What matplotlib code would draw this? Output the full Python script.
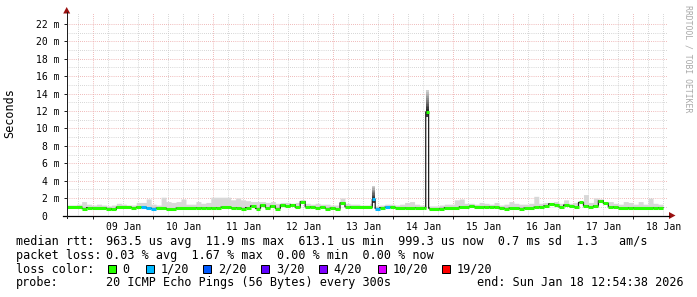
import numpy as np
import matplotlib.pyplot as plt
from matplotlib.collections import LineCollection
from matplotlib.patches import Polygon, Rectangle
from matplotlib.lines import Line2D
from matplotlib.transforms import IdentityTransform

plt.rcParams['font.family'] = ['DejaVu Sans Mono']

W, H = 697, 297

# time in days of January 2026, values in ms
x_lo, x_hi = 8.5567, 18.5567
y_hi = 23.25
t_first, t_last = 8.5567, 18.495

# median rtt, one value per 2 hours
median_ms = [
    0.95, 0.95, 0.95, 0.80, 0.90, 0.85, 0.85, 0.85, 0.80, 0.70,
    0.95, 0.95, 0.95, 0.90, 0.95, 0.95, 0.85, 0.80, 0.85, 0.85,
    0.75, 0.75, 0.85, 0.85, 0.85, 0.85, 0.90, 0.85, 0.90, 0.85,
    0.90, 0.95, 0.95, 0.85, 0.90, 0.80, 0.90, 1.10, 0.80, 1.20,
    0.90, 1.10, 0.80, 1.20, 1.05, 1.25, 0.95, 1.60, 1.00, 0.95,
    0.90, 0.95, 0.80, 0.85, 0.75, 1.45, 1.00, 0.95, 0.95, 0.95,
    0.95, 0.95, 0.80, 0.90, 0.95, 0.95, 0.90, 0.90, 0.85, 0.85,
    0.90, 0.90, 0.85, 0.75, 0.75, 0.80, 0.90, 0.90, 0.90, 1.00,
    1.00, 1.05, 1.00, 1.00, 0.95, 1.00, 0.95, 0.85, 0.80, 0.85,
    0.85, 0.80, 0.85, 0.85, 0.95, 1.00, 1.10, 1.35, 1.25, 1.00,
    1.20, 1.05, 1.00, 1.50, 1.10, 1.00, 1.10, 1.70, 1.40, 1.00,
    0.95, 0.90, 0.90, 0.85, 0.90, 0.90, 0.90, 0.90, 0.85, 0.90,
]
# top of the smoke (slowest ping), one value per 2 hours
smoke_ms = [
    1.2, 1.2, 1.3, 1.6, 1.3, 1.2, 1.3, 1.2, 1.1, 1.2,
    1.4, 1.3, 1.2, 1.2, 1.5, 1.5, 1.9, 1.3, 1.2, 2.1,
    1.6, 1.5, 1.6, 1.9, 1.3, 1.3, 1.6, 1.4, 1.5, 2.1,
    2.1, 2.1, 2.1, 1.8, 2.0, 1.8, 1.7, 1.6, 1.6, 1.6,
    1.5, 1.6, 1.4, 1.5, 1.5, 1.4, 1.5, 1.8, 1.4, 1.3,
    1.4, 1.3, 1.3, 1.2, 1.2, 2.0, 1.4, 1.3, 1.3, 1.2,
    1.2, 1.4, 1.1, 1.2, 1.3, 1.3, 1.2, 1.3, 1.5, 1.6,
    1.3, 1.2, 1.1, 1.1, 1.1, 1.2, 1.3, 1.3, 1.8, 1.9,
    1.4, 1.4, 1.3, 1.5, 1.4, 1.3, 1.5, 1.2, 1.3, 1.6,
    1.4, 1.3, 1.3, 1.4, 2.2, 1.4, 1.5, 1.5, 1.6, 1.4,
    1.8, 1.4, 1.5, 1.6, 2.4, 1.5, 2.0, 1.9, 1.5, 1.6,
    1.4, 1.3, 1.6, 1.5, 1.3, 1.6, 1.3, 2.0, 1.4, 1.3,
]
loss_bins = [15, 16, 17, 62, 64]
loss_bin_level = [1, 1, 1, 1, 1]

# short spikes
spike_t = [13.6533, 14.537]
spike_len = 0.05
spike_med = [1.85, 11.9]
spike_lo = [1.4, 11.3]
spike_hi = [3.4, 14.4]
spike_loss = [1, 0]

loss_labels = ['0', '1/20', '2/20', '3/20', '4/20', '10/20', '19/20']
loss_colors = ['#26ff00', '#00b8ff', '#0059ff', '#5e00ff', '#7e00ff', '#dd00ff', '#ff0000']

day_ticks = list(range(9, 19))
day_labels = ['%02d Jan' % d for d in day_ticks]
y_ticks = list(range(0, 23, 2))
y_labels = ['0  '] + ['%d m' % v for v in y_ticks[1:]]

rtt_stats = '963.5 us avg  11.9 ms max  613.1 us min  999.3 us now  0.7 ms sd  1.3   am/s'
loss_stats = '0.03 % avg  1.67 % max  0.00 % min  0.00 % now'
probe_text = '20 ICMP Echo Pings (56 Bytes) every 300s'
end_text = 'end: Sun Jan 18 12:54:38 2026'

# ---- build step series ----
n = len(median_ms)
sub = 12
dt = (t_last - t_first) / n / sub
fine_med = np.repeat(np.array(median_ms), sub)
fine_top = np.repeat(np.array(smoke_ms), sub)
lvl = np.zeros(n, dtype=int)
lvl[loss_bins] = loss_bin_level
fine_loss = np.repeat(lvl, sub)
edges = t_first + dt * np.arange(n * sub + 1)
for ts, m, ls in zip(spike_t, spike_med, spike_loss):
    k = int(round((ts - t_first) / dt))
    w = int(round(spike_len / dt))
    fine_med[k:k + w] = m
    fine_top[k:k + w] = m
    fine_loss[k:k + w] = ls

fig = plt.figure(figsize=(W / 100, H / 100), dpi=100)
fig.patch.set_facecolor('white')
px = IdentityTransform()

ax_l, ax_r, ax_t, ax_b = 66.7, 666.7, 13, 215.5
ax = fig.add_axes([ax_l / W, (H - ax_b) / H, (ax_r - ax_l) / W, (ax_b - ax_t) / H])
ax.set_xlim(x_lo, x_hi)
ax.set_ylim(0, y_hi)
for s in ax.spines.values():
    s.set_visible(False)

# grid
dots = (0, (0.7, 1.4))
for q in np.arange(np.ceil(x_lo * 4) / 4, x_hi, 0.25):
    if abs(q - round(q)) < 1e-6:
        ax.axvline(q, color='#eba3a3', lw=0.72, ls=dots, zorder=0)
    else:
        ax.axvline(q, color='#c8c8c8', lw=0.72, ls=dots, zorder=0)
for v in range(1, 23):
    c = '#eba3a3' if v % 2 == 0 else '#c8c8c8'
    ax.axhline(v, color=c, lw=0.72, ls=dots, zorder=0)

# smoke
ax.fill_between(edges, np.append(fine_med, fine_med[-1]), np.append(fine_top, fine_top[-1]),
                step='post', color='#d8d8d8', lw=0, zorder=2)
for ts, m, lo, hi in zip(spike_t, spike_med, spike_lo, spike_hi):
    levels = np.linspace(lo, hi, 15)
    span = max(hi - m, m - lo)
    for a, b in zip(levels[:-1], levels[1:]):
        g = 0.12 + 0.72 * abs((a + b) / 2 - m) / span
        ax.bar(ts, b - a, bottom=a, width=spike_len, align='edge', color=str(g), lw=0, zorder=2)

# median line, then loss-coloured band
ax.step(edges, np.append(fine_med, fine_med[-1]), where='post', color='#202020', lw=0.9, zorder=3)
segs, cols = [], []
start = 0
N = len(fine_med)
for k in range(1, N + 1):
    if k == N or fine_med[k] != fine_med[start] or fine_loss[k] != fine_loss[start]:
        segs.append([(edges[start], fine_med[start]), (edges[k], fine_med[start])])
        cols.append(loss_colors[fine_loss[start]])
        start = k
ax.add_collection(LineCollection(segs, colors=cols, linewidths=2.2, capstyle='butt', zorder=4))

# ticks
ax.set_xticks([d + 0.5 for d in day_ticks])
ax.set_xticklabels(day_labels)
ax.set_xticks(day_ticks, minor=True)
ax.tick_params(axis='x', which='major', length=0, pad=5, labelsize=7)
ax.tick_params(axis='x', which='minor', length=2.2, width=0.72, color='#222222')
ax.set_yticks(y_ticks)
ax.set_yticklabels(y_labels)
ax.tick_params(axis='y', length=2, width=0.72, color='#222222', pad=3, labelsize=7)

# axis lines with arrows
fig.add_artist(Line2D([63, 669], [H - ax_b, H - ax_b], transform=px, color='black', lw=0.9))
fig.add_artist(Line2D([ax_l, ax_l], [H - 218, H - 12], transform=px, color='#202020', lw=0.72))
fig.add_artist(Polygon([[669, H - ax_b - 3.5], [675.5, H - ax_b], [669, H - ax_b + 3.5]],
                       closed=True, transform=px, color='#9a1010', lw=0))
fig.add_artist(Polygon([[ax_l - 3.5, H - 13.5], [ax_l, H - 7], [ax_l + 3.5, H - 13.5]],
                       closed=True, transform=px, color='#9a1010', lw=0))

# labels
fig.text(10, H - 113, 'Seconds', transform=px, rotation=90, fontsize=8.5, ha='center', va='center')
fig.text(688, H - 59, 'RRDTOOL / TOBI OETIKER', transform=px, rotation=270, fontsize=5.9,
         ha='center', va='center', color='#a8a8a8')


def ftext(x, y, s):
    fig.text(x, H - y, s, transform=px, fontsize=8.5, va='baseline')


ftext(16, 245.3, 'median rtt:')
ftext(106.3, 245.3, rtt_stats)
ftext(16, 258.7, 'packet loss:')
ftext(106.3, 258.7, loss_stats)
ftext(16, 272.7, 'loss color:')
box_x = [108, 145.7, 203, 261, 319, 378, 441.7]
for bx, lab, col in zip(box_x, loss_labels, loss_colors):
    fig.add_artist(Rectangle((bx, H - 273), 8, 8, transform=px, facecolor=col,
                             edgecolor='black', lw=0.72))
    ftext(bx + 14.7, 272.7, lab)
ftext(16, 286.3, 'probe:')
ftext(106.3, 286.3, probe_text)
ftext(477, 286.3, end_text)

fig.savefig('out.png', dpi=100, facecolor='white')
